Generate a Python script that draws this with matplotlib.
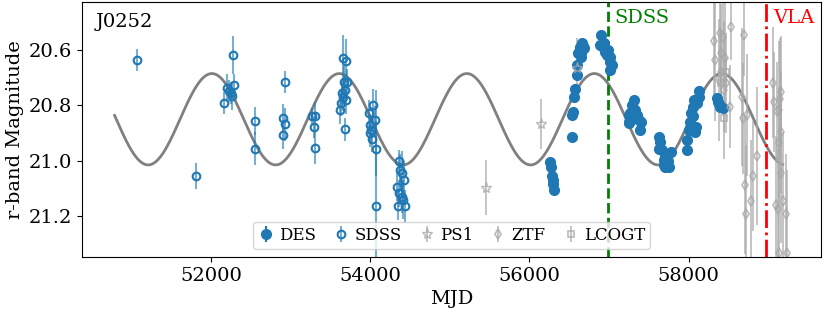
import numpy as np
import matplotlib
matplotlib.use("Agg")
import matplotlib.pyplot as plt

plt.rcParams["font.family"] = "DejaVu Serif"

# DES (filled)
des_t = [56262, 56270, 56278, 56296, 56312, 56290, 56529, 56534, 56542, 56554, 56567,
         56597, 56597, 56610, 56638, 56660, 56680, 56630, 56651, 56645, 56670,
         56898, 56890, 56924, 56952, 56974, 57015, 57036, 57015, 57006, 56935, 56990,
         57245, 57254, 57308, 57288, 57266, 57329, 57351, 57245, 57371, 57405, 57392, 57300,
         57622, 57643, 57622, 57664, 57706, 57685, 57727, 57747, 57706, 57782, 57690, 57735,
         57979, 57979, 57999, 58020, 58033, 58049, 58070, 58096, 58083, 58104, 58060,
         58124, 58133, 58355, 58363, 58397, 58426, 58380]
des_m = [21.004, 21.022, 21.055, 21.084, 21.104, 21.070, 20.914, 20.835, 20.823, 20.769, 20.739,
         20.690, 20.654, 20.612, 20.600, 20.576, 20.594, 20.588, 20.624, 20.610, 20.585,
         20.546, 20.582, 20.588, 20.606, 20.618, 20.624, 20.654, 20.672, 20.642, 20.575, 20.600,
         20.865, 20.835, 20.781, 20.799, 20.829, 20.817, 20.835, 20.859, 20.853, 20.859, 20.889, 20.810,
         20.914, 20.932, 20.956, 20.962, 20.980, 20.998, 21.010, 21.022, 21.022, 20.968, 21.015, 21.000,
         20.926, 20.962, 20.889, 20.859, 20.829, 20.805, 20.781, 20.877, 20.896, 20.793, 20.840,
         20.769, 20.747, 20.775, 20.787, 20.805, 20.811, 20.795]
des_e = [0.015] * len(des_t)

# SDSS (open)
sdss_t = [51071, 51815, 52167, 52205, 52226, 52251, 52264, 52284, 52280, 52553,
          52548, 52929, 52899, 52929, 52904, 53272, 53310, 53297, 53306,
          53653, 53691, 53670, 53703, 53645, 53678, 53628, 53615, 53691, 53678, 53662,
          53979, 54030, 54013, 53997, 54064, 54072, 54067, 54001, 54026,
          54378, 54336, 54399, 54356, 54399, 54349, 54440, 54415, 54428, 54365]
sdss_m = [20.636, 21.055, 20.790, 20.736, 20.748, 20.754, 20.765, 20.727, 20.618, 20.856,
          20.956, 20.717, 20.846, 20.868, 20.906, 20.838, 20.838, 20.877, 20.953,
          20.627, 20.639, 20.717, 20.717, 20.757, 20.745, 20.790, 20.817, 20.781, 20.887, 20.769,
          20.829, 20.800, 20.889, 20.900, 20.853, 20.956, 21.164, 20.870, 20.920,
          21.034, 21.094, 21.046, 21.118, 21.130, 21.164, 21.164, 21.140, 21.070, 21.000]
sdss_e = [0.04, 0.048, 0.04, 0.05, 0.04, 0.04, 0.05, 0.04, 0.07, 0.05,
          0.06, 0.04, 0.05, 0.06, 0.05, 0.03, 0.05, 0.04, 0.06,
          0.08, 0.08, 0.06, 0.05, 0.05, 0.05, 0.05, 0.05, 0.05, 0.04, 0.05,
          0.05, 0.06, 0.05, 0.05, 0.05, 0.10, 0.42, 0.04, 0.05,
          0.06, 0.05, 0.08, 0.05, 0.06, 0.05, 0.06, 0.07, 0.07, 0.04]

# PS1
ps1_t = [55451, 56149, 56600]
ps1_m = [21.097, 20.868, 20.665]
ps1_e = [0.10, 0.09, 0.11]

# ZTF
ztf_t = [58321, 58388, 58431, 58535, 58334, 58405, 58458, 58410, 58376, 58473,
         58514, 58443, 58699, 58670, 58677, 58733, 58858, 58807, 58702, 58786,
         58720, 59059, 59075, 59142, 59163, 59109, 59138, 59163, 59138, 59159,
         59100, 59117, 59184, 59226, 59138, 59234]
ztf_m = [20.566, 20.537, 20.554, 20.516, 20.636, 20.612, 20.630, 20.678, 20.709, 20.720,
         20.805, 20.745, 20.545, 20.769, 20.847, 20.835, 20.983, 21.055, 21.086, 21.146,
         21.194, 20.718, 20.787, 20.777, 20.751, 20.822, 20.817, 20.896, 20.935, 21.046,
         21.161, 21.176, 21.146, 21.194, 21.333, 21.333]
ztf_e = [0.20, 0.15, 0.18, 0.12, 0.22, 0.18, 0.20, 0.15, 0.22, 0.18,
         0.15, 0.25, 0.15, 0.25, 0.20, 0.22, 0.25, 0.20, 0.25, 0.22,
         0.25, 0.20, 0.18, 0.22, 0.20, 0.18, 0.25, 0.22, 0.20, 0.25,
         0.25, 0.22, 0.25, 0.22, 0.30, 0.30]

# LCOGT
lco_t = [58443, 58410, 58465]
lco_m = [20.847, 20.720, 20.680]
lco_e = [0.05, 0.06, 0.05]

# sinusoid model
period = 1601.0
t0 = 52012.0
amp = 0.165
mean = 20.85
t_start, t_end = 50790, 59180

t_sdss_spec = 56981
t_vla = 58971

fig, ax = plt.subplots(figsize=(8.3, 3.12), dpi=100)
fig.subplots_adjust(left=0.099, right=0.989, top=0.994, bottom=0.176)

tt = np.linspace(t_start, t_end, 600)
ax.plot(tt, mean - amp * np.cos(2 * np.pi * (tt - t0) / period), color="grey", lw=2)

ax.errorbar(des_t, des_m, yerr=des_e, fmt="o", color="tab:blue", ms=7, elinewidth=1.5, label="DES")
ax.errorbar(sdss_t, sdss_m, yerr=sdss_e, fmt="o", color="tab:blue", mfc="none", mew=1.5, ms=5.5,
            elinewidth=1.5, ecolor=(0.12, 0.47, 0.71, 0.6), label="SDSS")
ax.errorbar(ps1_t, ps1_m, yerr=ps1_e, fmt="*", color="darkgrey", mfc="none", ms=8,
            elinewidth=1.2, alpha=0.8, label="PS1")
ax.errorbar(ztf_t, ztf_m, yerr=ztf_e, fmt="d", color="darkgrey", mfc="none", ms=5, mew=1.2,
            elinewidth=1.2, alpha=0.8, label="ZTF")
ax.errorbar(lco_t, lco_m, yerr=lco_e, fmt="s", color="darkgrey", mfc="none", ms=5, mew=1.2,
            elinewidth=1.2, alpha=0.8, label="LCOGT")

ax.axvline(t_sdss_spec, color="green", ls="--", lw=2)
ax.axvline(t_vla, color="red", ls="-.", lw=2)
ax.text(t_sdss_spec + 80, 20.485, "SDSS", color="green", fontsize=14, va="center")
ax.text(t_vla + 90, 20.485, "VLA", color="red", fontsize=14, va="center")
ax.text(0.018, 0.92, "J0252", transform=ax.transAxes, fontsize=14, va="center")

ax.set_xlim(50383, 59660)
ax.set_ylim(21.348, 20.426)
ax.set_xticks([52000, 54000, 56000, 58000])
ax.set_yticks([20.6, 20.8, 21.0, 21.2])
ax.tick_params(labelsize=14)
ax.set_xlabel("MJD", fontsize=14)
ax.set_ylabel("r-band Magnitude", fontsize=14)
ax.legend(loc="lower center", ncol=5, fontsize=12, handletextpad=0.3, columnspacing=1.0,
          borderpad=0.3, handlelength=1.0)

fig.savefig("out.png", dpi=100)
